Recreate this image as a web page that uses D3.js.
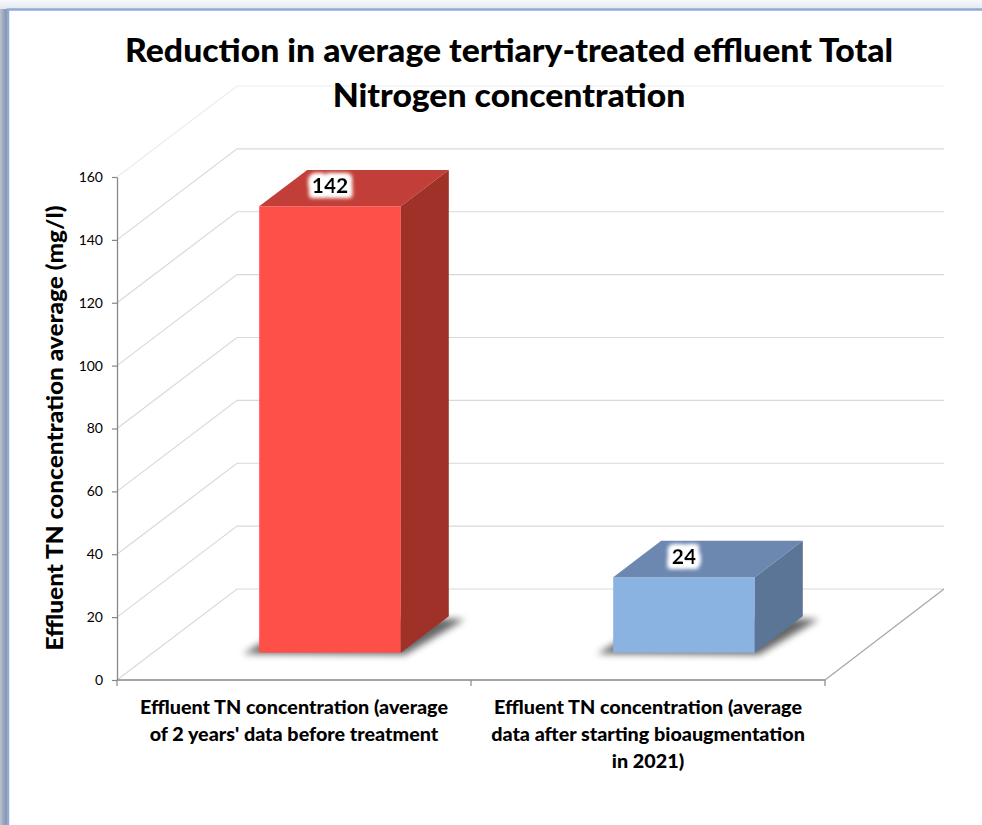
<!DOCTYPE html>
<html>
<head>
<meta charset="utf-8">
<script src="https://cdn.jsdelivr.net/npm/d3@7"></script>
<style>
  html, body { margin: 0; padding: 0; background: #ffffff; }
  svg { display: block; }
</style>
</head>
<body>
<script>
// ---- data ----
const titleLines = ["Reduction in average tertiary-treated effluent Total", "Nitrogen concentration"];
const yAxisTitle = "Effluent TN concentration average (mg/l)";
const categories = ["before", "after"];
const categoryLabels = [
  ["Effluent TN concentration (average", "of 2 years' data before treatment"],
  ["Effluent TN concentration (average", "data after starting bioaugmentation", "in 2021)"]
];
const values = [142, 24];
const yTicks = [0, 20, 40, 60, 80, 100, 120, 140, 160];
const frontColors = ["#FE5048", "#8BB3E2"];
const topColors = ["#C13F38", "#6D88B0"];
const sideColors = ["#A03128", "#5B7596"];

// ---- layout ----
const W = 982, H = 825;
const plot = { left: 117, right: 825, bottom: 680, top: 177 };
const DX = 120, DY = -91;           // floor depth offset
const backRight = 944;
const barDepth0 = 0.3, barDepth = 0.4;
const FONT = "Lato, 'Open Sans', sans-serif";

const svg = d3.select("body").append("svg").attr("width", W).attr("height", H);
const defs = svg.append("defs");

// fit a multi-line text group so its first line has the target width
function fitLines(textSel, targetFirst) {
  const tspans = textSel.selectAll("tspan").nodes();
  const w0 = tspans[0].getComputedTextLength();
  const k = targetFirst / w0;
  tspans.forEach(n => {
    const w = n.getComputedTextLength();
    d3.select(n).attr("textLength", w * k).attr("lengthAdjust", "spacingAndGlyphs");
  });
}

// page frame
const topGrad = defs.append("linearGradient").attr("id", "topg").attr("x1", 0).attr("y1", 0).attr("x2", 0).attr("y2", 1);
topGrad.append("stop").attr("offset", 0).attr("stop-color", "#f7f8fa");
topGrad.append("stop").attr("offset", 1).attr("stop-color", "#e3e8ef");
const leftGrad = defs.append("linearGradient").attr("id", "leftg").attr("x1", 0).attr("y1", 0).attr("x2", 1).attr("y2", 0);
leftGrad.append("stop").attr("offset", 0).attr("stop-color", "#b9c2cf");
leftGrad.append("stop").attr("offset", 1).attr("stop-color", "#7f90ab");
svg.append("rect").attr("x", 0).attr("y", 0).attr("width", W).attr("height", 9).attr("fill", "url(#topg)");
svg.append("rect").attr("x", 0).attr("y", 9).attr("width", 7).attr("height", H).attr("fill", "url(#leftg)");
svg.append("path").attr("d", `M8,${H} L8,9.5 L${W},9.5`).attr("fill", "none").attr("stroke", "#8fabd8").attr("stroke-width", 2.5);

// filters
const blur = defs.append("filter").attr("id", "shadow").attr("x", "-30%").attr("y", "-30%").attr("width", "160%").attr("height", "160%");
blur.append("feGaussianBlur").attr("stdDeviation", 3.5);
const glow = defs.append("filter").attr("id", "glow").attr("x", "-40%").attr("y", "-40%").attr("width", "180%").attr("height", "180%");
glow.append("feMorphology").attr("in", "SourceAlpha").attr("operator", "dilate").attr("radius", 4).attr("result", "d");
glow.append("feFlood").attr("flood-color", "#ffffff").attr("result", "w");
glow.append("feComposite").attr("in", "w").attr("in2", "d").attr("operator", "in").attr("result", "wd");
glow.append("feGaussianBlur").attr("in", "wd").attr("stdDeviation", 2).attr("result", "b");
const gm = glow.append("feMerge");
gm.append("feMergeNode").attr("in", "b");
gm.append("feMergeNode").attr("in", "b");
gm.append("feMergeNode").attr("in", "SourceGraphic");

// scales
const y = d3.scaleLinear().domain([0, 160]).range([plot.bottom, plot.top]);
const x = d3.scaleBand().domain(d3.range(categories.length)).range([plot.left, plot.right])
  .paddingInner(0.6).paddingOuter(0.3);
const step = x.step();

// gridlines (side wall + back wall)
const grid = svg.append("g");
yTicks.forEach(v => {
  const yy = y(v);
  grid.append("path")
    .attr("d", `M${plot.left},${yy} L${plot.left + DX},${yy + DY} L${backRight},${yy + DY}`)
    .attr("fill", "none")
    .attr("stroke", v === 160 ? "#ececec" : "#d9d9d9")
    .attr("stroke-width", 1.2);
});
// floor right edge
svg.append("line")
  .attr("x1", plot.right).attr("y1", plot.bottom)
  .attr("x2", backRight).attr("y2", plot.bottom + DY)
  .attr("stroke", "#a6a6a6").attr("stroke-width", 1.2);

// bars
const bw = x.bandwidth();
const bdx = DX * barDepth, bdy = DY * barDepth;
const bars = svg.append("g");
values.forEach((v, i) => {
  const xl = x(i) + DX * barDepth0;
  const xr = xl + bw;
  const yb = y(0) + DY * barDepth0;
  const yt = y(v) + DY * barDepth0;
  const g = bars.append("g");
  g.append("polygon")
    .attr("points", [[xl - 16, yb + 1], [xr + 4, yb + 2], [xr + bdx + 16, yb + bdy + 3], [xl + bdx, yb + bdy]].map(p => p.join(",")).join(" "))
    .attr("fill", "#000").attr("opacity", 0.6).attr("filter", "url(#shadow)");
  g.append("rect").attr("x", xl).attr("y", yt).attr("width", bw).attr("height", yb - yt)
    .attr("fill", frontColors[i]);
  g.append("polygon")
    .attr("points", [[xl, yt], [xr, yt], [xr + bdx, yt + bdy], [xl + bdx, yt + bdy]].map(p => p.join(",")).join(" "))
    .attr("fill", topColors[i]);
  g.append("polygon")
    .attr("points", [[xr, yt], [xr + bdx, yt + bdy], [xr + bdx, yb + bdy], [xr, yb]].map(p => p.join(",")).join(" "))
    .attr("fill", sideColors[i]);
  svg.append("text")
    .attr("x", xl + bw / 2).attr("y", yt - 13)
    .attr("text-anchor", "middle")
    .attr("font-family", FONT)
    .attr("font-weight", 900).attr("font-size", 21)
    .attr("fill", "#000")
    .attr("filter", "url(#glow)")
    .text(v);
});

// y axis
const yAxis = d3.axisLeft(y).tickValues(yTicks).tickSize(5).tickSizeOuter(0).tickPadding(9);
const ya = svg.append("g").attr("transform", `translate(${plot.left},0)`).call(yAxis);
ya.select(".domain").attr("stroke", "#878787").attr("stroke-width", 1.3);
ya.selectAll(".tick line").attr("stroke", "#878787").attr("stroke-width", 1.2);
ya.selectAll(".tick text").attr("font-family", FONT).attr("font-size", 14).attr("fill", "#000");

// x axis
const bounds = d3.range(categories.length + 1).map(k => plot.left + k * step);
const xa = svg.append("g");
xa.append("line").attr("x1", plot.left).attr("x2", plot.right).attr("y1", plot.bottom).attr("y2", plot.bottom)
  .attr("stroke", "#878787").attr("stroke-width", 1.3);
bounds.forEach(b => xa.append("line").attr("x1", b).attr("x2", b).attr("y1", plot.bottom).attr("y2", plot.bottom + 6)
  .attr("stroke", "#878787").attr("stroke-width", 1.2));

// category labels
const catTargets = [308, 308];
categoryLabels.forEach((lines, i) => {
  const cx = plot.left + (i + 0.5) * step;
  const t = svg.append("text")
    .attr("text-anchor", "middle")
    .attr("font-family", FONT)
    .attr("font-weight", 900).attr("font-size", 18).attr("fill", "#000");
  lines.forEach((ln, j) => {
    t.append("tspan").attr("x", cx).attr("y", 714 + j * 27).text(ln);
  });
  fitLines(t, catTargets[i]);
});

// y axis title
const yt = svg.append("text")
  .attr("transform", "translate(63,428) rotate(-90)")
  .attr("text-anchor", "middle")
  .attr("font-family", FONT)
  .attr("font-weight", 900).attr("font-size", 23.5).attr("fill", "#000");
yt.append("tspan").attr("x", 0).attr("y", 0).text(yAxisTitle);
fitLines(yt, 445);

// title
const tt = svg.append("text")
  .attr("text-anchor", "middle")
  .attr("font-family", FONT)
  .attr("font-weight", 900).attr("font-size", 32).attr("fill", "#000");
titleLines.forEach((ln, j) => {
  tt.append("tspan").attr("x", 509).attr("y", 62 + j * 45).text(ln);
});
fitLines(tt, 768);
</script>
</body>
</html>
